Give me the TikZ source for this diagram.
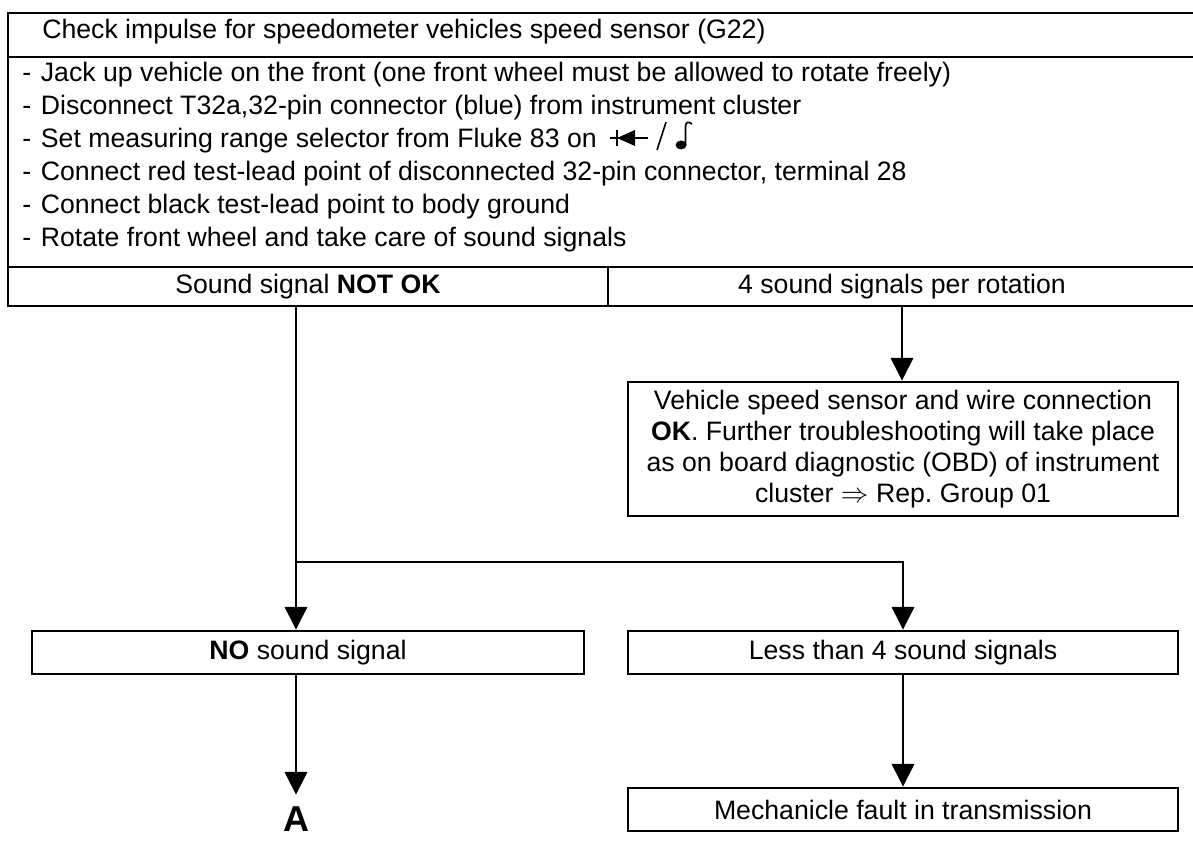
\documentclass[tikz,border=0pt]{standalone}
\usepackage{fontspec}
\setmainfont{Liberation Sans}
\usetikzlibrary{arrows.meta}
\frenchspacing
\newcommand{\stepdash}{\makebox[14pt][l]{-}}
\tikzset{
  cell/.style={draw, line width=2.2pt, inner sep=0pt, font=\fontsize{20}{23.25}\selectfont},
  stepline/.style={anchor=west, inner sep=0pt, font=\fontsize{20}{23.25}\selectfont},
  flow/.style={line width=1.1pt, -{Triangle[width=17pt,length=17pt]}},
}
\begin{document}
\begin{tikzpicture}[x=0.75pt,y=0.75pt,yscale=-1,xscale=1]
\useasboundingbox (0,0) rectangle (1193,841);
% Check frame
\node[cell, minimum width=891pt, minimum height=33pt] (title) at (602,35) {};
\node[cell, minimum width=891pt, minimum height=157.5pt] (steps) at (602,162) {};
\node[cell, minimum width=450pt, minimum height=29.25pt] (nok) at (308,286.5) {Sound signal \textbf{NOT OK}};
\node[cell, minimum width=441pt, minimum height=29.25pt] (ok4) at (902,286.5) {4 sound signals per rotation};
% Texts of the check
\node[stepline] (head) at (42,32) {Check impulse for speedometer vehicles speed sensor (G22)};
\node[stepline] (s1) at (22,75) {\stepdash Jack up vehicle on the front (one front wheel must be allowed to rotate freely)};
\node[stepline] (s2) at (22,108) {\stepdash Disconnect T32a,32-pin connector (blue) from instrument cluster};
\node[stepline] (s3) at (22,141) {\stepdash Set measuring range selector from Fluke 83 on};
\node[stepline] (s4) at (22,174) {\stepdash Connect red test-lead point of disconnected 32-pin connector, terminal 28};
\node[stepline] (s5) at (22,207) {\stepdash Connect black test-lead point to body ground};
\node[stepline] (s6) at (22,240) {\stepdash Rotate front wheel and take care of sound signals};
% Diode / buzzer symbol
\begin{scope}[shift={(s3.east)}]
\draw[line width=1.3pt] (13,-3) -- (51,-3);
\draw[line width=1.6pt] (20,-11) -- (20,5);
\fill (20,-3) -- (38,-11) -- (38,5) -- cycle;
\draw[line width=1.2pt] (60,9) -- (69,-19);
\fill (84,4) ellipse [x radius=5.5, y radius=4.5];
\draw[line width=1.3pt] (88.5,4) -- (88.5,-14) .. controls (88.5,-19) and (91,-20) .. (95,-17);
\end{scope}
% Results
\node[cell, minimum width=412.5pt, minimum height=100.5pt, align=center] (obd) at (903,449) {Vehicle speed sensor and wire connection\\\textbf{OK}. Further troubleshooting will take place\\as on board diagnostic (OBD) of instrument\\cluster $\Rightarrow$ Rep. Group 01};
\node[cell, minimum width=414pt, minimum height=32.25pt] (nosig) at (308,652.5) {\textbf{NO} sound signal};
\node[cell, minimum width=412.5pt, minimum height=32.25pt] (less) at (903,652.5) {Less than 4 sound signals};
\node[cell, minimum width=412.5pt, minimum height=32.25pt] (mech) at (903,809.5) {Mechanicle fault in transmission};
\node[font=\fontsize{27}{27}\selectfont\bfseries, inner sep=0pt, outer sep=9pt] (aa) at (296,819) {A};
% Connectors
\draw[flow] (nok.south -| aa) -- (nosig.north -| aa);
\coordinate (fork) at (903,562);
\draw[flow] (fork -| aa) -- (fork) -- (less.north);
\draw[flow] (ok4.south) -- (ok4.south |- obd.north);
\draw[flow] (nosig.south -| aa) -- (aa);
\draw[flow] (less) -- (mech);
\end{tikzpicture}
\end{document}
